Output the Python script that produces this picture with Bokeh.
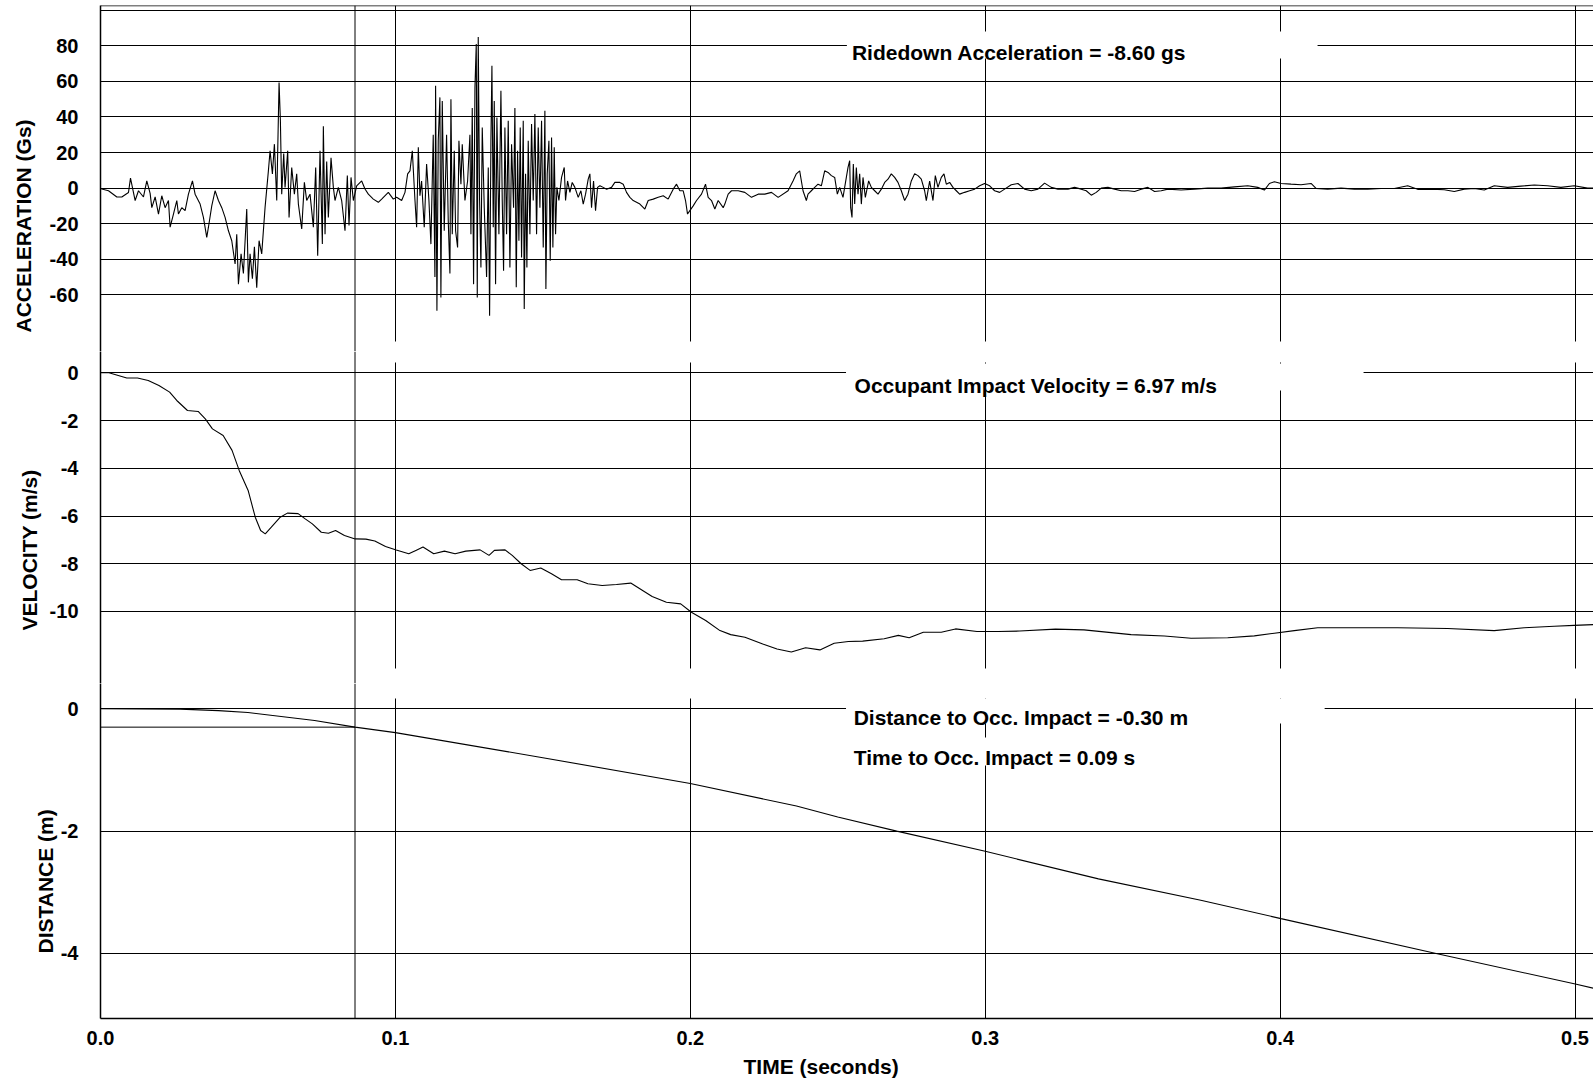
from bokeh.plotting import figure
from bokeh.models import Range1d, FixedTicker, Span, Label, BoxAnnotation, PrintfTickFormatter, Title
from bokeh.layouts import column
from bokeh.embed import file_html
from bokeh.resources import INLINE

FONT = "Liberation Sans"

# ---------------- data ----------------
acc_time = [0.0, 0.00045, 0.00271, 0.00554, 0.00723, 0.00949, 0.01017, 0.01175, 0.01288, 0.01457, 0.01570,
            0.01683, 0.01740, 0.01853, 0.01966, 0.02078, 0.02191, 0.02304, 0.02361, 0.02474, 0.02587,
            0.02643, 0.02756, 0.02869, 0.02982, 0.03118, 0.03208, 0.03378, 0.03490, 0.03603, 0.03660,
            0.03773, 0.03886, 0.03999, 0.04112, 0.04225, 0.04338, 0.04451, 0.04564, 0.04620, 0.04677,
            0.04767, 0.04846, 0.04959, 0.05015, 0.05072, 0.05151, 0.05219, 0.05298, 0.05377, 0.05467,
            0.05580, 0.05693, 0.05750, 0.05829, 0.05897, 0.05976, 0.06055, 0.06100, 0.06145, 0.06213,
            0.06258, 0.06348, 0.06394, 0.06484, 0.06574, 0.06653, 0.06710, 0.06823, 0.06913, 0.06992,
            0.07105, 0.07218, 0.07297, 0.07365, 0.07444, 0.07523, 0.07557, 0.07614, 0.07670, 0.07726,
            0.07817, 0.07896, 0.07952, 0.08065, 0.08178, 0.08291, 0.08370, 0.08427, 0.08495, 0.08574,
            0.08687, 0.08856, 0.08969, 0.09082, 0.09251, 0.09421, 0.09534, 0.09760, 0.09929, 0.10042,
            0.10212, 0.10325, 0.10415, 0.10494, 0.10573, 0.10664, 0.10720, 0.10777,
            0.10832, 0.10888, 0.10978, 0.11058, 0.11137, 0.11204, 0.11283, 0.11340, 0.11363, 0.11408,
            0.11453, 0.11509, 0.11543, 0.11589, 0.11656, 0.11736, 0.11792, 0.11849, 0.11883, 0.11928,
            0.11996, 0.12041, 0.12109, 0.12154, 0.12222, 0.12267, 0.12358, 0.12448, 0.12527, 0.12561,
            0.12606, 0.12651, 0.12697, 0.12742, 0.12776, 0.12809, 0.12855, 0.12900, 0.12945, 0.13013,
            0.13092, 0.13149, 0.13194, 0.13239, 0.13273, 0.13318, 0.13352, 0.13397, 0.13442, 0.13510,
            0.13578, 0.13623, 0.13668, 0.13713, 0.13770, 0.13826, 0.13883, 0.13939, 0.14007, 0.14052,
            0.14098, 0.14143, 0.14188, 0.14233, 0.14278, 0.14335, 0.14369, 0.14414, 0.14459, 0.14504,
            0.14561, 0.14617, 0.14674, 0.14730, 0.14787, 0.14843, 0.14900, 0.14956, 0.15013, 0.15069,
            0.15103, 0.15148, 0.15205, 0.15250, 0.15295, 0.15340, 0.15386, 0.15431, 0.15476, 0.15544,
            0.15634, 0.15725, 0.15770, 0.15838, 0.15917, 0.15996, 0.16086, 0.16199, 0.16290, 0.16369,
            0.16448, 0.16538, 0.16595, 0.16651, 0.16719, 0.16787, 0.16855, 0.16934, 0.17047, 0.17160,
            0.17329, 0.17442, 0.17612, 0.17725, 0.17838, 0.17951, 0.18064, 0.18177, 0.18290, 0.18459,
            0.18572, 0.18742, 0.18911, 0.19081, 0.19250, 0.19420, 0.19533, 0.19646, 0.19759, 0.19838,
            0.19906, 0.19985, 0.20098, 0.20211, 0.20380, 0.20516, 0.20606, 0.20719, 0.20832, 0.20945,
            0.21115, 0.21171, 0.21284, 0.21397, 0.21623, 0.21849, 0.22075, 0.22301, 0.22527, 0.22753,
            0.22979,
            0.23314, 0.23483, 0.23596, 0.23709, 0.23822, 0.23935, 0.23992, 0.24105, 0.24218, 0.24331,
            0.24444, 0.24557, 0.24670, 0.24783, 0.24896, 0.24986, 0.25065, 0.25178, 0.25291, 0.25348,
            0.25404, 0.25438, 0.25483, 0.25528, 0.25574, 0.25630, 0.25687, 0.25743, 0.25800, 0.25856,
            0.25935, 0.26048, 0.26139, 0.26252, 0.26365, 0.26478, 0.26591, 0.26703, 0.26816, 0.26929,
            0.27042, 0.27155, 0.27268, 0.27381, 0.27494, 0.27607, 0.27720, 0.27833, 0.27946, 0.28003,
            0.28116, 0.28229, 0.28308, 0.28398, 0.28511, 0.28602, 0.28681, 0.28794, 0.28907, 0.29020,
            0.29133, 0.29302, 0.29472, 0.29641, 0.29811, 0.29980, 0.30150, 0.30319, 0.30489, 0.30658,
            0.30884, 0.31110, 0.31336, 0.31562, 0.31788, 0.32014, 0.32240, 0.32466, 0.32805, 0.33031,
            0.33257, 0.33426, 0.33596, 0.33765, 0.33935, 0.34161, 0.34387, 0.34613, 0.34839, 0.35065,
            0.35291, 0.35517, 0.35743, 0.35969, 0.36195,
            0.36643, 0.37095, 0.37547, 0.37999, 0.38451, 0.38902, 0.39241, 0.39467, 0.39637, 0.39806,
            0.40032, 0.40371, 0.40710, 0.41049, 0.41218, 0.41613, 0.42065, 0.42517, 0.42969, 0.43421,
            0.43873, 0.44325, 0.44664, 0.45115, 0.45567, 0.45906, 0.46245, 0.46584, 0.46923, 0.47262,
            0.47714, 0.48166, 0.48618, 0.49069, 0.49521, 0.49973, 0.50425, 0.50640]
acc_gs = [0.0, -0.5, -1.5, -5.0, -5.0, -2.5, 5.6, -7.0, -1.5, -5.0, 4.0,
          -3.0, -11.0, -5.0, -14.6, -4.3, -11.0, -7.0, -22.0, -14.6, -7.0,
          -14.6, -11.0, -12.7, -3.4, 4.1, -3.4, -9.0, -16.5, -27.7, -22.0,
          -10.0, -1.5, -7.0, -11.0, -16.5, -24.0, -29.6, -42.7, -26.0, -54.0,
          -37.0, -48.0, -11.8, -53.0, -37.0, -51.0, -33.0, -56.0, -29.6, -37.0,
          -11.0, 9.7, 21.0, 8.0, 24.7, -7.0, 59.4, 38.0, -3.4, 19.5,
          0.4, 21.0, -16.5, 11.6, -3.4, 8.0, -9.0, -23.0, 3.2, -7.0,
          -3.4, -22.0, 11.6, -38.0, 21.0, -31.5, 34.8, -26.0, 15.0, -16.5,
          17.0, 0.4, -7.0, 0.4, -7.0, -24.0, 7.0, -21.0, 6.0, -7.0,
          1.3, 4.0, -0.5, -3.4, -6.2, -8.0, -6.2, -2.4, -6.2, -5.2,
          -7.0, -2.4, 8.0, 9.7, 21.0, -7.0, -22.0, 23.0,
          -4.3, 4.0, -22.0, 13.5, -7.0, -31.5, 30.0, -50.0, 57.5, -69.0,
          26.6, 51.0, -61.5, 49.0, -24.0, 30.0, -18.4, -48.0, 50.0, -26.0,
          21.0, -24.0, -33.4, 26.6, 2.2, 24.7, -7.0, 4.0, 30.0, -26.0,
          45.0, -54.0, 56.6, 81.0, -61.5, 85.0, -7.0, -44.6, 34.0, -11.0,
          -50.0, 11.6, -71.8, 26.6, 68.8, -22.0, 49.0, -54.0, 39.7, -26.0,
          54.7, -7.0, -46.5, 34.0, -26.0, 37.9, -44.6, 24.7, -11.0, 45.0,
          -55.8, 21.0, -29.6, 34.0, -39.0, 37.9, -68.0, 8.0, -44.6, 26.6,
          -26.0, 36.0, -7.0, 41.6, -26.0, 34.0, -11.0, 37.9, -33.4, 43.5,
          -56.8, 8.0, 26.6, -40.9, 28.5, -33.4, 23.0, -26.0, 0.4, -7.0,
          6.0, 11.6, -7.0, 4.0, -2.4, 3.2, 0.4, -5.2, -1.5, -9.0,
          -3.4, 5.0, 8.0, -11.0, 4.0, -12.7, 0.4, 1.3, 0.4, -0.6,
          0.4, 3.2, 3.2, 2.2, -2.4, -5.2, -7.0, -8.0, -9.0, -11.8,
          -7.0, -6.2, -5.2, -4.3, -6.2, -0.6, 2.2, -1.5, -1.5, -7.0,
          -14.6, -12.7, -10.0, -7.0, -3.4, 2.2, -5.2, -7.0, -11.8, -7.0,
          -11.0, -9.0, -3.4, -1.5, -1.5, -2.4, -5.2, -3.4, -3.4, -2.4,
          -5.2,
          -1.5, 4.0, 8.0, 9.7, -1.5, -7.0, -3.4, -1.5, 0.4, 2.2,
          1.3, 9.7, 8.8, 7.0, 6.0, -3.4, 0.4, -5.2, 6.0, 11.6,
          15.4, -11.0, -16.5, 13.5, -9.0, 11.6, -3.4, 8.0, -9.0, 6.0,
          -5.2, 4.0, 0.4, -1.5, -3.4, -0.6, 3.2, 5.0, 8.0, 6.0,
          3.2, -1.5, -7.0, -3.4, 4.0, 8.0, 7.0, 5.0, -1.5, -7.0,
          4.0, -7.0, 7.0, 0.4, 6.0, 8.0, 2.2, 3.2, 0.4, -1.5,
          -3.4, -2.4, -1.5, -0.6, 1.3, 2.6, 1.3, -1.5, -2.4, -0.6,
          1.9, 2.6, -0.6, -1.5, -0.6, 2.8, 0.4, -0.6, -0.6, 0.4,
          -0.6, -1.5, -4.0, -2.4, 0.0, 0.4, -0.6, -1.5, -1.5, -1.9,
          -0.6, 0.4, -1.9, -1.5, -0.6,
          -1.1, -0.6, 0.0, 0.0, 0.7, 1.3, 0.4, -1.1, 2.6, 3.6,
          2.6, 2.2, 1.9, 2.6, -0.2, -0.6, 0.0, -0.6, -0.6, -0.2,
          -0.2, 1.3, -0.7, -0.6, -0.9, -1.9, -0.6, -0.2, -1.1, 1.3,
          0.4, 1.1, 1.7, 1.3, 0.4, 1.3, 0.0, 0.0]

vel_time = [0.0, 0.00286, 0.00891, 0.01255, 0.01618, 0.01981, 0.02344, 0.02586, 0.02949, 0.03312,
            0.03554, 0.03796, 0.04159, 0.04461, 0.04703, 0.05006, 0.05248, 0.05430, 0.05587, 0.05793,
            0.06095, 0.06337, 0.06700, 0.06942, 0.07184, 0.07487, 0.07729, 0.07971, 0.08273, 0.08636,
            0.09000, 0.09302, 0.09665, 0.10028, 0.10452, 0.10694, 0.10936, 0.11299, 0.11662, 0.12025,
            0.12388, 0.12872, 0.13175, 0.13356, 0.13719, 0.13961, 0.14264, 0.14567, 0.14930, 0.15293,
            0.15632, 0.16164, 0.16527, 0.17011, 0.17496, 0.17980, 0.18343, 0.18706, 0.19190, 0.19675,
            0.20037, 0.20522, 0.21006, 0.21369, 0.21853, 0.22457, 0.22941, 0.23426, 0.23910, 0.24395,
            0.24879, 0.25360, 0.25845, 0.26574, 0.27055, 0.27421, 0.27902, 0.28509, 0.28993, 0.29719,
            0.30444, 0.31172, 0.32382, 0.33351, 0.34947, 0.36076, 0.36981, 0.38224, 0.39126, 0.39804,
            0.40481, 0.41274, 0.42291, 0.43985, 0.45680, 0.47259, 0.48276, 0.49292, 0.49970, 0.50637]
vel_ms = [0.0, 0.0, -0.22, -0.22, -0.32, -0.53, -0.81, -1.16, -1.58, -1.62,
          -1.93, -2.35, -2.63, -3.25, -4.09, -4.93, -6.05, -6.61, -6.75, -6.47,
          -6.05, -5.88, -5.90, -6.12, -6.33, -6.68, -6.72, -6.61, -6.82, -6.96,
          -6.97, -7.05, -7.28, -7.42, -7.58, -7.44, -7.30, -7.58, -7.47, -7.58,
          -7.47, -7.42, -7.65, -7.44, -7.42, -7.65, -8.00, -8.28, -8.18, -8.42,
          -8.67, -8.67, -8.84, -8.91, -8.87, -8.81, -9.09, -9.37, -9.61, -9.68,
          -10.03, -10.38, -10.80, -10.97, -11.08, -11.36, -11.57, -11.70, -11.52, -11.61,
          -11.33, -11.26, -11.24, -11.14, -11.00, -11.10, -10.87, -10.87, -10.73, -10.84,
          -10.84, -10.82, -10.74, -10.77, -10.97, -11.03, -11.12, -11.10, -11.02, -10.91,
          -10.80, -10.68, -10.68, -10.68, -10.71, -10.80, -10.68, -10.62, -10.58, -10.55]

dist_time = [0.0, 0.027, 0.040, 0.050, 0.0726, 0.0863, 0.100, 0.150, 0.200, 0.236, 0.250,
             0.270, 0.300, 0.3384, 0.3731, 0.4003, 0.4529, 0.5001, 0.5064]
dist_m = [0.0, -0.005, -0.03, -0.06, -0.19, -0.30, -0.39, -0.80, -1.22, -1.59, -1.77,
          -2.00, -2.33, -2.78, -3.13, -3.43, -4.00, -4.50, -4.57]

impact_time = 0.0863
impact_dist = -0.30

time_ticks = [0.0, 0.1, 0.2, 0.3, 0.4, 0.5]
acc_label_ticks = [-60, -40, -20, 0, 20, 40, 60, 80]
acc_grid_ticks = [-60, -40, -20, 0, 20, 40, 60, 80, 100]
vel_ticks = [-10, -8, -6, -4, -2, 0]
dist_ticks = [-4, -2, 0]

# ---------------- layout ----------------
W = 1593
LEFT = 99
x_range = Range1d(0.0, 0.50627)


def make_fig(height, y_start, y_end, top, bottom, label_ticks, grid_ticks, vgrid_bounds,
             ytitle, ytitle_offset, ytitle_standoff, with_xaxis):
    p = figure(width=W, height=height, x_range=x_range, y_range=Range1d(y_start, y_end),
               output_backend="svg", toolbar_location=None,
               x_axis_location="below" if with_xaxis else None, y_axis_location="left")
    p.min_border = 0
    p.min_border_left = LEFT
    p.min_border_right = 0
    p.min_border_top = top
    p.min_border_bottom = bottom
    p.outline_line_color = None
    p.background_fill_color = "white"
    p.border_fill_color = "white"

    ya = p.yaxis[0]
    ya.ticker = FixedTicker(ticks=label_ticks)
    ya.formatter = PrintfTickFormatter(format="%d")
    ya.major_tick_line_color = None
    ya.minor_tick_line_color = None
    ya.major_tick_out = 0
    ya.major_tick_in = 0
    ya.major_label_standoff = 22
    ya.major_label_text_font = FONT
    ya.major_label_text_font_style = "bold"
    ya.major_label_text_font_size = "20px"
    ya.major_label_text_color = "black"
    ya.axis_line_color = "black"
    ya.axis_line_width = 1.5

    p.add_layout(Title(text=ytitle, align="left", offset=ytitle_offset, vertical_align="middle",
                       standoff=ytitle_standoff, text_font=FONT, text_font_style="bold",
                       text_font_size="21px", text_color="black"), "left")

    p.ygrid.ticker = FixedTicker(ticks=grid_ticks)
    p.ygrid.grid_line_color = "black"
    p.ygrid.grid_line_width = 1
    p.xgrid.ticker = FixedTicker(ticks=time_ticks)
    p.xgrid.grid_line_color = "black"
    p.xgrid.grid_line_width = 1
    for g in p.xgrid:
        try:
            g.cross_bounds = vgrid_bounds
        except AttributeError:
            pass

    if with_xaxis:
        xa = p.xaxis[0]
        xa.ticker = FixedTicker(ticks=time_ticks)
        xa.formatter = PrintfTickFormatter(format="%.1f")
        xa.major_tick_line_color = None
        xa.minor_tick_line_color = None
        xa.major_tick_out = 0
        xa.major_tick_in = 0
        xa.major_label_standoff = 12
        xa.major_label_text_font = FONT
        xa.major_label_text_font_style = "bold"
        xa.major_label_text_font_size = "20px"
        xa.major_label_text_color = "black"
        xa.axis_line_color = "black"
        xa.axis_line_width = 1.5
        p.add_layout(Title(text="TIME (seconds)", align="left", offset=643, vertical_align="bottom",
                           standoff=10, text_font=FONT, text_font_style="bold",
                           text_font_size="21px", text_color="black"), "below")

    p.add_layout(Span(location=impact_time, dimension="height", line_color="black", line_width=1))
    return p


def mask(p, left, right, bottom, top):
    p.add_layout(BoxAnnotation(left=left, right=right, bottom=bottom, top=top,
                               fill_color="white", fill_alpha=1.0, line_alpha=0.0))


def text(p, x, y, s):
    p.add_layout(Label(x=x, y=y, text=s, text_font=FONT, text_font_style="bold",
                       text_font_size="21px", text_color="black", text_align="left",
                       text_baseline="alphabetic"))


# Acceleration panel (frame 5..351)
p1 = make_fig(351, -91.88, 102.66, 5, 0, acc_label_ticks, acc_grid_ticks, (-86.0, 102.66),
              "ACCELERATION (Gs)", 19, 21, False)
p1.add_layout(Span(location=102.66, dimension="width", line_color="black", line_width=1.5))
p1.line(acc_time, acc_gs, line_color="black", line_width=1.1)
mask(p1, 0.2531, 0.4127, 72.8, 88.0)
text(p1, 0.2548, 76.2, "Ridedown Acceleration = -8.60 gs")

# Velocity panel (frame 351..683)
p2 = make_fig(332, -13.017, 0.892, 0, 0, vel_ticks, vel_ticks, (-12.39, 0.43),
              "VELOCITY (m/s)", 53, 10, False)
p2.line(vel_time, vel_ms, line_color="black", line_width=1.1)
mask(p2, 0.2528, 0.4283, -0.74, 0.39)
text(p2, 0.2557, -0.545, "Occupant Impact Velocity = 6.97 m/s")

# Distance panel (frame 683..1018)
p3 = make_fig(405, -5.063, 0.4136, 0, 70, dist_ticks, dist_ticks, (-5.063, 0.168),
              "DISTANCE (m)", 65, 0, True)
p3.line(dist_time, dist_m, line_color="black", line_width=1.1)
p3.line([0.0, impact_time], [impact_dist, impact_dist], line_color="black", line_width=1)
mask(p3, 0.2528, 0.4151, -0.24, 0.17)
mask(p3, 0.2528, 0.3560, -0.927, -0.469)
text(p3, 0.2554, -0.142, "Distance to Occ. Impact = -0.30 m")
text(p3, 0.2554, -0.796, "Time to Occ. Impact = 0.09 s")

layout = column(p1, p2, p3, spacing=0)
open("out.html", "w").write(file_html(layout, INLINE))
